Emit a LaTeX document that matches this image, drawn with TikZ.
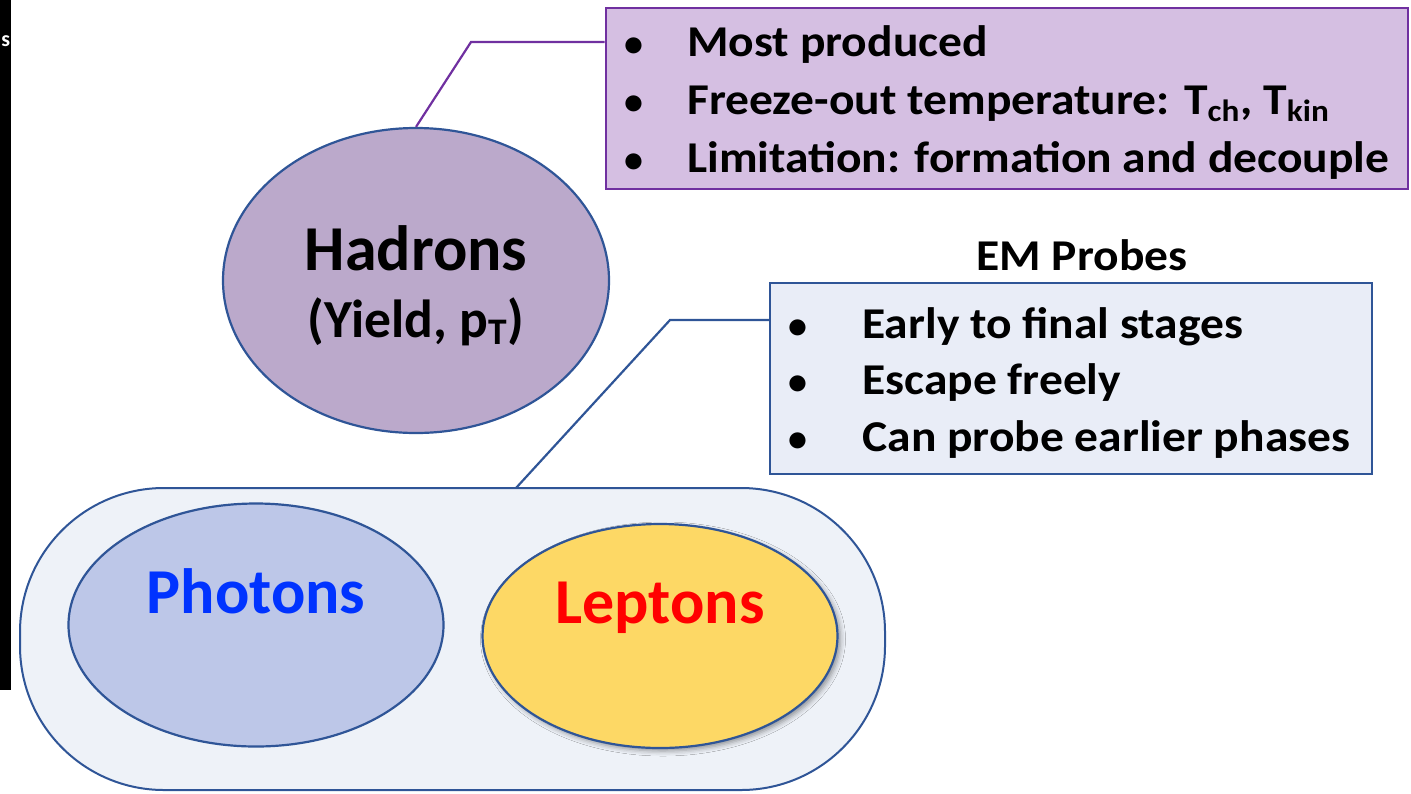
\documentclass[tikz,border=0pt]{standalone}
\usepackage{fontspec}
\setmainfont{Carlito}
\newfontfamily\bodyfont{Carlito}[FakeStretch=1.08]
\usetikzlibrary{shapes.geometric,shadows.blur}
\definecolor{pborder}{HTML}{7030A0}
\definecolor{pfill}{HTML}{D5BFE2}
\definecolor{hfill}{HTML}{BBA9CB}
\definecolor{bborder}{HTML}{2F5597}
\definecolor{bfill}{HTML}{E9EDF7}
\definecolor{pillfill}{HTML}{EEF2F8}
\definecolor{phfill}{HTML}{BDC7E8}
\definecolor{phtext}{HTML}{0033FF}
\definecolor{lfill}{HTML}{FDD865}
\definecolor{ltext}{HTML}{FF0000}
\begin{document}
\begin{tikzpicture}[x=0.5pt,y=-0.5pt,
  bodytext/.style={font=\bodyfont\fontsize{22}{26}\bfseries\selectfont, inner sep=0pt, anchor=base west},
  bulletdot/.style={font=\fontsize{19}{22}\bfseries\selectfont, inner sep=0pt, anchor=base},
  ell/.style={ellipse, draw=bborder, line width=1.1pt, inner sep=0pt},
  boxstyle/.style={rectangle, inner sep=0pt}]
\useasboundingbox (0,0) rectangle (1411,793);
% black bar at left
\fill[black] (0,0) rectangle (11,690);
\node[text=white, font=\fontsize{11}{13}\bfseries\selectfont, inner sep=0pt, anchor=base west] (sbar) at (1,46) {s};

% boxes
\node[boxstyle, draw=pborder, fill=pfill, line width=1.4pt, minimum width=401pt, minimum height=90.5pt] (pbox) at (1007,98.5) {};
\node[boxstyle, draw=bborder, fill=bfill, line width=1pt, minimum width=301pt, minimum height=95.5pt] (bbox) at (1071,378.5) {};

% hadrons
\node[ell, fill=hfill, minimum width=193pt, minimum height=152.5pt] (had) at (416,280.5) {};
\node[font=\fontsize{32}{36}\bfseries\selectfont, inner sep=0pt, anchor=base] (hadt) at (416,270) {Hadrons};
\node[font=\fontsize{26.8}{30}\bfseries\selectfont, inner sep=0pt, anchor=base] (hady) at (416,337) {(Yield, p\textsubscript{T})};

% pill
\node[rectangle, draw=bborder, fill=pillfill, line width=1pt, rounded corners=72pt, minimum width=432.5pt, minimum height=151pt] (pill) at (452.5,639) {};
\node[ell, fill=phfill, minimum width=187.5pt, minimum height=121.5pt] (phot) at (256,625) {};
\node[font=\fontsize{32}{36}\bfseries\selectfont, text=phtext, inner sep=0pt, anchor=base] (phott) at (256,613) {Photons};
\node[ell, fill=lfill, minimum width=177.5pt, minimum height=112pt, blur shadow={shadow xshift=1.5pt, shadow yshift=-1.5pt, shadow blur radius=2.5pt, shadow opacity=40}] (lept) at (660,636) {};
\node[font=\fontsize{32}{36}\bfseries\selectfont, text=ltext, inner sep=0pt, anchor=base] (leptt) at (660,623) {Leptons};

% connectors
\coordinate (hc) at (471,42);
\draw[pborder, line width=1.1pt] (had.north) -- (hc) -- (pbox.west |- hc);
\coordinate (ec) at (670,320);
\coordinate (es) at (516,488);
\draw[bborder, line width=1.1pt] (es) -- (ec) -- (bbox.west |- ec);

% purple box text
\node[bulletdot] (pb1) at (634,56) {•};
\node[bodytext] (pt1) at (687,56) {Most produced};
\node[bulletdot] (pb2) at (634,114) {•};
\node[bodytext] (pt2) at (687,114) {Freeze-out temperature: T\textsubscript{ch}, T\textsubscript{kin}};
\node[bulletdot] (pb3) at (634,172) {•};
\node[bodytext] (pt3) at (687,172) {Limitation: formation and decouple};

% EM probes
\node[font=\bodyfont\fontsize{22}{26}\bfseries\selectfont, inner sep=0pt, anchor=base] (emt) at (1082,270) {EM Probes};
\node[bulletdot] (bb1) at (798,338) {•};
\node[bodytext] (bt1) at (862,338) {Early to final stages};
\node[bulletdot] (bb2) at (798,394) {•};
\node[bodytext] (bt2) at (862,394) {Escape freely};
\node[bulletdot] (bb3) at (798,451) {•};
\node[bodytext] (bt3) at (862,451) {Can probe earlier phases};
\end{tikzpicture}
\end{document}
